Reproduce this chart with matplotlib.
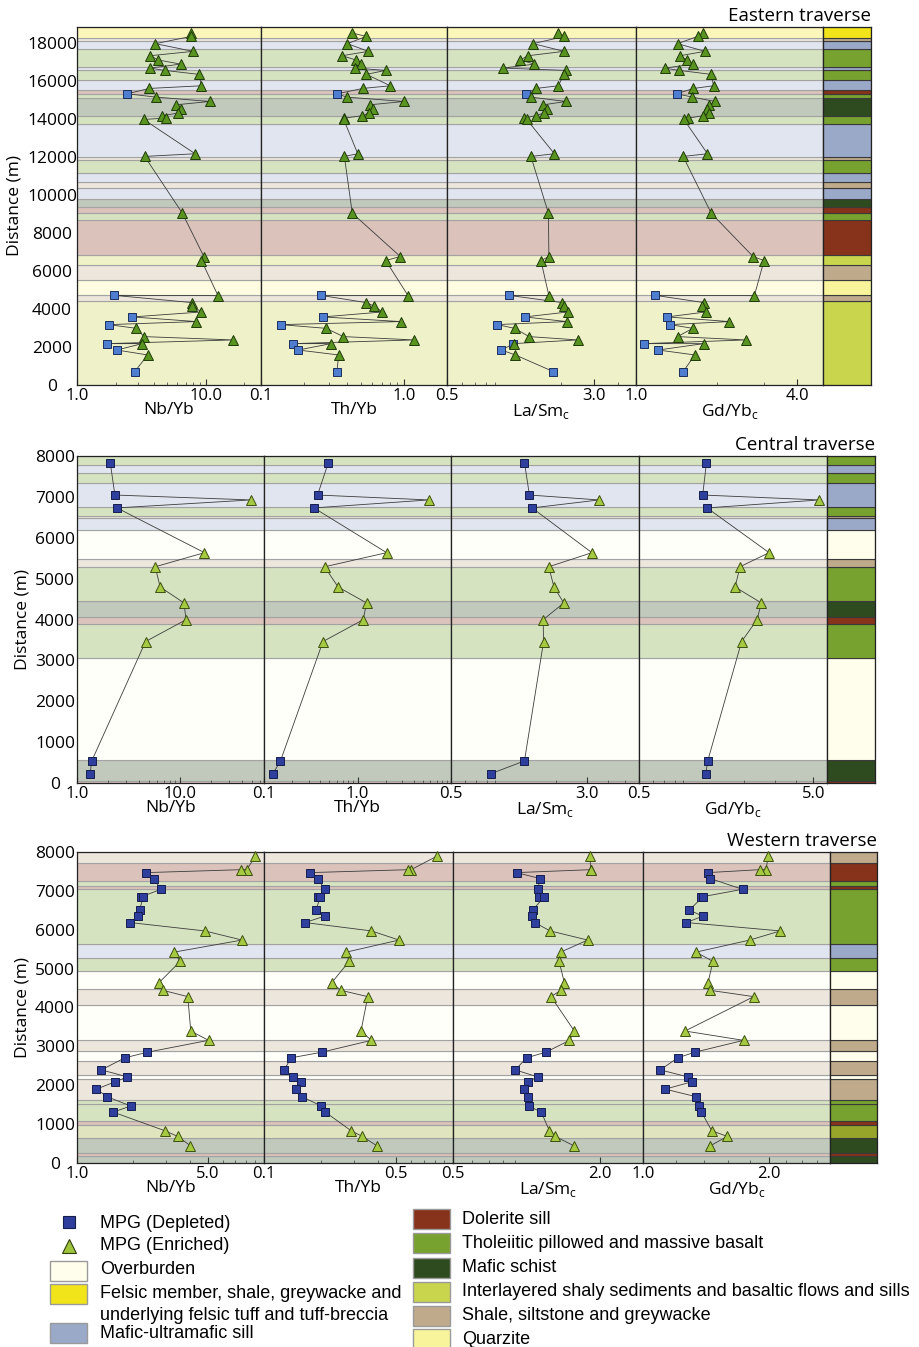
import matplotlib
matplotlib.use("Agg")
import matplotlib.pyplot as plt
import matplotlib.colors as mcolors
from matplotlib.patches import Rectangle
from matplotlib.ticker import LogLocator, NullFormatter, FixedLocator
import numpy as np

plt.rcParams['font.family'] = ['Open Sans', 'DejaVu Sans']

W, H = 920, 1347

# ---------------- data ----------------
# Eastern traverse
east_dist = [18510, 18330, 17950, 17545, 17315, 17090, 16875, 16665, 16545, 16335,
             15735, 15595, 15315, 15140, 14910, 14735, 14510, 14300, 14160, 14035,
             13965, 12160, 12020, 9035, 6755, 6545, 4700, 4715, 4335, 4160,
             3840, 3580, 3335, 3175, 2980, 2545, 2370, 2175, 2175, 1840, 1580, 700]
east_grp = "EEEEEEEEEEEED" "EEEEEEEEEEEEEED" "EEED" "ED" "EEED" "ED" "ED"
east_nb = [7.7, 7.7, 4.07, 8.0, 3.7, 4.3, 6.4, 3.7, 4.8, 8.9, 9.3, 3.65, 2.46, 4.1, 10.8,
           5.9, 6.4, 6.1, 4.6, 4.9, 3.3, 8.3, 3.36, 6.6, 9.7, 9.3, 12.5, 1.94, 7.8, 7.9,
           9.3, 2.69, 8.5, 1.77, 2.89, 3.32, 16.4, 1.70, 3.22, 2.04, 3.55, 2.81]
east_th = [0.435, 0.543, 0.402, 0.564, 0.369, 0.462, 0.501, 0.452, 0.745, 0.546, 0.803,
           0.514, 0.342, 0.397, 1.00, 0.579, 0.604, 0.566, 0.512, 0.383, 0.379, 0.475,
           0.383, 0.435, 0.943, 0.745, 1.068, 0.261, 0.543, 0.614, 0.706, 0.270, 0.954,
           0.137, 0.285, 0.377, 1.182, 0.167, 0.309, 0.182, 0.349, 0.340]
east_la = [1.93, 2.09, 1.43, 2.08, 1.34, 1.22, 1.45, 0.99, 2.13, 2.08, 1.94, 1.48, 1.31,
           1.39, 2.13, 1.62, 1.69, 1.63, 1.47, 1.28, 1.32, 1.85, 1.39, 1.72, 1.73, 1.57,
           1.73, 1.06, 2.03, 2.07, 2.18, 1.29, 2.15, 0.92, 1.14, 1.36, 2.46, 1.12, 1.13,
           0.97, 1.15, 1.83]
east_gd = [1.78, 1.70, 1.43, 1.81, 1.46, 1.55, 1.64, 1.28, 1.45, 1.91, 1.95, 1.64, 1.42,
           1.62, 1.98, 1.88, 1.84, 1.87, 1.78, 1.57, 1.51, 1.85, 1.50, 1.91, 2.74, 3.01,
           2.77, 1.18, 1.79, 1.76, 1.82, 1.31, 2.23, 1.34, 1.63, 1.43, 2.57, 1.07, 1.79,
           1.21, 1.66, 1.50]
east_bounds = [0, 4395, 4711, 5500, 6289, 6816, 8684, 9037, 9379, 9800, 10353, 10700,
               11142, 11842, 12016, 13737, 14121, 15089, 15316, 15526, 16053, 16542,
               16721, 17668, 18105, 18247, 18826]
east_units = ['I', 'S', 'Q', 'S', 'I', 'D', 'T', 'D', 'M', 'U', 'S', 'U', 'T', 'S', 'U',
              'T', 'M', 'T', 'D', 'U', 'T', 'U', 'T', 'U', 'S', 'F']

# Central traverse
cent_dist = [7840, 7045, 6925, 6730, 5635, 5290, 4795, 4405, 3995, 3460, 540, 230]
cent_grp = "DDEDEEEEEEDD"
cent_nb = [2.10, 2.33, 48.7, 2.44, 17.2, 5.73, 6.40, 10.9, 11.4, 4.62, 1.39, 1.34]
cent_th = [0.488, 0.374, 5.80, 0.342, 2.05, 0.445, 0.620, 1.25, 1.15, 0.427, 0.150, 0.125]
cent_la = [1.32, 1.41, 3.54, 1.46, 3.22, 1.82, 1.95, 2.22, 1.69, 1.70, 1.32, 0.85]
cent_gd = [1.22, 1.16, 5.42, 1.23, 2.79, 1.90, 1.78, 2.52, 2.38, 1.94, 1.24, 1.21]
cent_bounds = [0, 57, 563, 3050, 3890, 4049, 4461, 5284, 5476, 6189, 6479, 6540, 6760,
               7351, 7580, 7771, 8000]
cent_units = ['D', 'M', 'O', 'T', 'D', 'M', 'T', 'S', 'O', 'U', 'S', 'T', 'U', 'T', 'U', 'T']

# Western traverse
west_dist = [7890, 7545, 7545, 7470, 7315, 7040, 6845, 6845, 6505, 6350, 6185, 5970,
             5735, 5425, 5185, 4635, 4440, 4280, 3395, 3155, 2850, 2705, 2395, 2215,
             2090, 1900, 1705, 1465, 1310, 830, 685, 445]
west_grp = "EEE" "DDDDDDDD" "EEEEEEEEE" "DDDDDDDDD" "EEE"
west_nb = [8.99, 8.08, 7.54, 2.35, 2.57, 2.81, 2.20, 2.26, 2.16, 2.13, 1.92, 4.82, 7.63,
           3.31, 3.56, 2.74, 2.89, 3.91, 4.06, 5.05, 2.38, 1.80, 1.35, 1.86, 1.60, 1.27,
           1.45, 1.94, 1.56, 2.95, 3.45, 4.04]
west_th = [0.820, 0.600, 0.580, 0.176, 0.192, 0.210, 0.194, 0.199, 0.188, 0.209, 0.165,
           0.370, 0.518, 0.273, 0.282, 0.228, 0.256, 0.354, 0.326, 0.370, 0.202, 0.139,
           0.128, 0.142, 0.156, 0.147, 0.159, 0.201, 0.211, 0.289, 0.331, 0.395]
west_la = [1.82, 1.83, 1.83, 0.91, 1.14, 1.11, 1.12, 1.18, 1.06, 1.05, 1.08, 1.25, 1.78,
           1.38, 1.36, 1.43, 1.38, 1.26, 1.57, 1.50, 1.20, 1.00, 0.90, 1.11, 1.01, 0.98,
           1.01, 1.02, 1.15, 1.24, 1.31, 1.56]
west_gd = [1.99, 1.97, 1.90, 1.43, 1.45, 1.73, 1.38, 1.39, 1.29, 1.39, 1.27, 2.13, 1.80,
           1.34, 1.47, 1.43, 1.45, 1.84, 1.26, 1.74, 1.33, 1.21, 1.10, 1.28, 1.31, 1.13,
           1.34, 1.36, 1.38, 1.46, 1.59, 1.45]
west_bounds = [0, 188, 257, 650, 975, 1087, 1506, 1609, 2156, 2259, 2618, 2883, 3174,
               4056, 4475, 4946, 5279, 5638, 7050, 7123, 7243, 7709, 8000]
west_units = ['M', 'D', 'M', 'I2', 'D', 'T', 'T', 'S', 'O', 'S', 'O', 'S', 'O', 'S', 'O',
              'T', 'U', 'T', 'D', 'T', 'D', 'S']

unit_colors = {'D': '#87321A', 'T': '#78A22F', 'M': '#2E4A1F', 'I': '#C9D54C',
               'I2': '#97A62B', 'S': '#BFAB8C', 'Q': '#F8F49C', 'O': '#FFFEEC',
               'F': '#F2E41A', 'U': '#9BA9C9'}

xlabels = ['Nb/Yb', 'Th/Yb', r'La/Sm$_\mathregular{c}$', r'Gd/Yb$_\mathregular{c}$']


def pale(c, a=0.3):
    r = np.array(mcolors.to_rgb(c))
    return tuple(a * r + (1 - a))


def axes_rect(x0, x1, top, bot):
    return [x0 / W, 1 - bot / H, (x1 - x0) / W, (bot - top) / H]


def draw_traverse(top, bot, xs, dist, grp, cols, lims, ticks, bounds, units, ymax,
                  ystep, title, sq_c, tri_c, ycenter):
    dist = np.array(dist)
    grp = np.array(list(grp))
    for i in range(4):
        ax = fig.add_axes(axes_rect(xs[i], xs[i + 1], top, bot))
        for b0, b1, u in zip(bounds[:-1], bounds[1:], units):
            ax.axhspan(b0, b1, fc=pale(unit_colors[u]), ec='#a3a3a3', lw=0.8, zorder=0)
        v = np.array(cols[i])
        ax.plot(v, dist, '-', color='#3c3c3c', lw=0.6, zorder=2)
        d = grp == 'D'
        ax.plot(v[d], dist[d], ls='none', marker='s', ms=5.5, mfc=sq_c[0], mec=sq_c[1],
                mew=0.7, zorder=3, clip_on=False)
        ax.plot(v[~d], dist[~d], ls='none', marker='^', ms=6.5, mfc=tri_c[0], mec=tri_c[1],
                mew=0.7, zorder=3, clip_on=False)
        ax.set_xscale('log')
        ax.set_xlim(*lims[i])
        ax.set_ylim(0, ymax)
        ax.xaxis.set_major_locator(FixedLocator(ticks[i]))
        ax.set_xticklabels(['%.1f' % t for t in ticks[i]])
        ax.xaxis.set_minor_locator(LogLocator(base=10, subs=np.arange(2, 10)))
        ax.xaxis.set_minor_formatter(NullFormatter())
        ax.tick_params(axis='x', which='major', direction='in', length=4, labelsize=12,
                       pad=2, color='#333')
        ax.tick_params(axis='x', which='minor', direction='in', length=2.5, color='#555')
        ax.set_xlabel(xlabels[i], fontsize=12.5, labelpad=-1)
        for s in ax.spines.values():
            s.set_linewidth(0.9)
            s.set_color('#222')
        if i == 0:
            ax.set_yticks(np.arange(0, ymax + 1, ystep))
            # tick labels are centred in a column left of the axis
            ax.tick_params(axis='y', length=0, labelsize=12.5,
                           pad=(xs[0] - ycenter) * 0.72)
            for lab in ax.get_yticklabels():
                lab.set_horizontalalignment('center')
            ax.set_ylabel('Distance (m)', fontsize=12.5, labelpad=3)
        else:
            ax.set_yticks([])
    # lithology strip
    sx = fig.add_axes(axes_rect(xs[4], xs[5], top, bot))
    for b0, b1, u in zip(bounds[:-1], bounds[1:], units):
        sx.axhspan(b0, b1, fc=unit_colors[u], ec='#3a3a3a', lw=0.8)
    sx.set_xlim(0, 1)
    sx.set_ylim(0, ymax)
    sx.set_xticks([])
    sx.set_yticks([])
    for s in sx.spines.values():
        s.set_linewidth(0.9)
        s.set_color('#222')
    fig.text(xs[5] / W, 1 - (top - 2) / H, title, ha='right', va='bottom', fontsize=13.5)


fig = plt.figure(figsize=(W / 100, H / 100), dpi=100)

east_sq = ('#4F7DD0', '#1C2E5C')
east_tri = ('#5A9420', '#1E3A08')
cw_sq = ('#2F3F9E', '#151D4D')
cw_tri = ('#A5C940', '#3D5010')

draw_traverse(27, 385, [77, 261, 447, 636, 823, 871], east_dist, east_grp,
              [east_nb, east_th, east_la, east_gd],
              [(1, 27), (0.1, 2.0), (0.5, 5.0), (1.0, 5.0)],
              [(1.0, 10.0), (0.1, 1.0), (0.5, 3.0), (1.0, 4.0)],
              east_bounds, east_units, 18826, 2000, 'Eastern traverse', east_sq, east_tri, 52)

draw_traverse(456, 783, [77, 264, 451, 639, 827, 875], cent_dist, cent_grp,
              [cent_nb, cent_th, cent_la, cent_gd],
              [(1, 65), (0.1, 10.0), (0.5, 6.0), (0.5, 6.0)],
              [(1.0, 10.0), (0.1, 1.0), (0.5, 3.0), (0.5, 5.0)],
              cent_bounds, cent_units, 8000, 1000, 'Central traverse', cw_sq, cw_tri, 55)

draw_traverse(852, 1163, [77, 264, 453, 643, 830, 877], west_dist, west_grp,
              [west_nb, west_th, west_la, west_gd],
              [(1, 10), (0.1, 1.0), (0.5, 3.0), (1.0, 2.8)],
              [(1.0, 5.0), (0.1, 0.5), (0.5, 2.0), (1.0, 2.0)],
              west_bounds, west_units, 8000, 1000, 'Western traverse', cw_sq, cw_tri, 55)

# ---------------- legend ----------------
lax = fig.add_axes([0, 0, 1, 1])
lax.set_xlim(0, W)
lax.set_ylim(H, 0)
lax.axis('off')
lfont = dict(family=['Liberation Sans Narrow', 'Liberation Sans', 'DejaVu Sans'],
             fontsize=13, va='center', ha='left')

lax.plot([69], [1222], ls='none', marker='s', ms=9, mfc='#2F3E9C', mec='#151D4D', mew=0.8)
lax.plot([69], [1246], ls='none', marker='^', ms=10, mfc='#9EC43C', mec='#2E3D0C', mew=0.8)
lax.text(100, 1223, 'MPG (Depleted)', **lfont)
lax.text(100, 1246, 'MPG (Enriched)', **lfont)

left_items = [('O', 1261, ['Overburden'], [1270]),
              ('F', 1284, ['Felsic member, shale, greywacke and',
                           'underlying felsic tuff and tuff-breccia'], [1294, 1315]),
              ('U', 1323, ['Mafic-ultramafic sill'], [1334])]
for u, y0, lines, ys in left_items:
    lax.add_patch(Rectangle((50, y0), 37, 20, fc=unit_colors[u], ec='#9a9a9a', lw=1))
    for t, yy in zip(lines, ys):
        lax.text(100, yy, t, **lfont)

right_items = [('D', 1209, 'Dolerite sill'),
               ('T', 1233, 'Tholeiitic pillowed and massive basalt'),
               ('M', 1258, 'Mafic schist'),
               ('I', 1282, 'Interlayered shaly sediments and basaltic flows and sills'),
               ('S', 1306, 'Shale, siltstone and greywacke'),
               ('Q', 1329, 'Quarzite')]
for u, y0, t in right_items:
    lax.add_patch(Rectangle((413, y0), 37, 20, fc=unit_colors[u], ec='#9a9a9a', lw=1))
    lax.text(462, y0 + 10, t, **lfont)

fig.savefig('out.png', dpi=100)
